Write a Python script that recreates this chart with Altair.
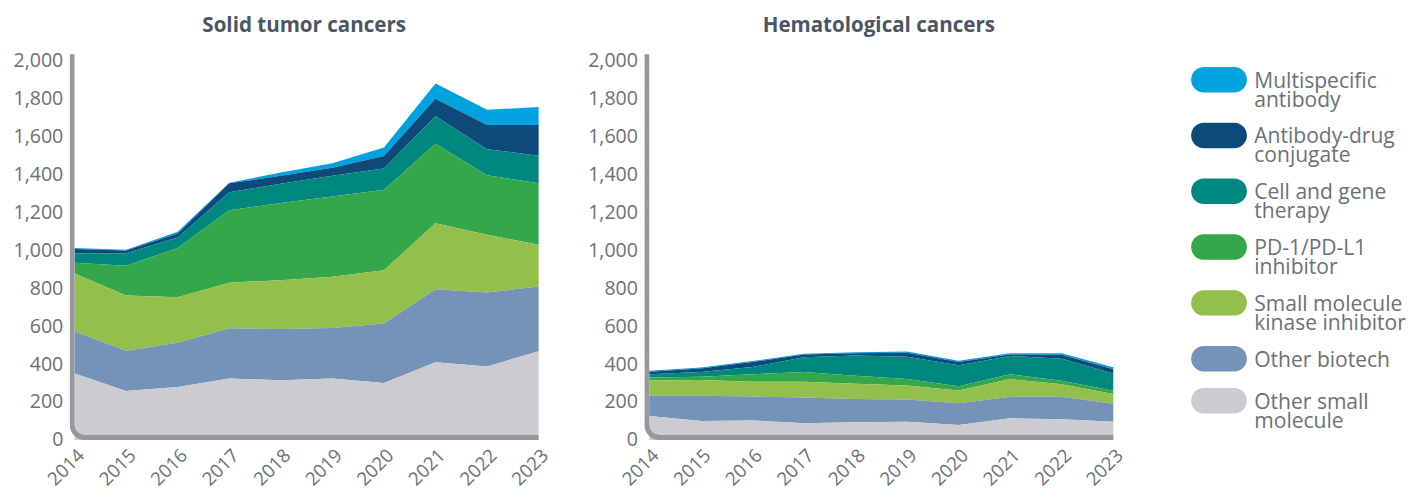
import altair as alt
import pandas as pd

years = list(range(2014, 2024))

categories = [
    "Multispecific antibody",
    "Antibody-drug conjugate",
    "Cell and gene therapy",
    "PD-1/PD-L1 inhibitor",
    "Small molecule kinase inhibitor",
    "Other biotech",
    "Other small molecule",
]
legend_labels = [
    "Multispecific\nantibody",
    "Antibody-drug\nconjugate",
    "Cell and gene\ntherapy",
    "PD-1/PD-L1\ninhibitor",
    "Small molecule\nkinase inhibitor",
    "Other biotech",
    "Other small\nmolecule",
]
colors = ["#00a3e0", "#0c4a7a", "#00877f", "#33a74a", "#93c04a", "#7593b8", "#cbcbd0"]

# Solid tumor cancers
solid_multispecific = [5, 4, 9, 3, 17, 24, 45, 81, 80, 95]
solid_adc = [23, 14, 21, 47, 42, 42, 66, 92, 128, 161]
solid_cell_gene = [50, 66, 55, 95, 102, 109, 112, 145, 137, 146]
solid_pd1 = [57, 157, 260, 382, 407, 424, 425, 420, 315, 324]
solid_kinase = [306, 291, 240, 241, 258, 270, 280, 348, 304, 221]
solid_other_biotech = [222, 213, 234, 265, 270, 267, 314, 385, 390, 341]
solid_other_small = [350, 258, 279, 324, 315, 324, 301, 410, 388, 468]

# Hematological cancers
heme_multispecific = [5, 5, 5, 4, 5, 7, 7, 7, 8, 11]
heme_adc = [13, 18, 26, 14, 12, 21, 17, 8, 21, 22]
heme_cell_gene = [17, 25, 38, 78, 107, 118, 111, 97, 116, 92]
heme_pd1 = [16, 18, 40, 52, 42, 34, 22, 25, 19, 17]
heme_kinase = [81, 83, 78, 83, 81, 73, 68, 93, 66, 51]
heme_other_biotech = [106, 133, 126, 136, 123, 118, 114, 114, 119, 95]
heme_other_small = [127, 100, 103, 88, 93, 96, 79, 114, 109, 96]

solid_series = [solid_multispecific, solid_adc, solid_cell_gene, solid_pd1,
                solid_kinase, solid_other_biotech, solid_other_small]
heme_series = [heme_multispecific, heme_adc, heme_cell_gene, heme_pd1,
               heme_kinase, heme_other_biotech, heme_other_small]

y_ticks = list(range(0, 2001, 200))

FONT = "Open Sans"
LABEL_COLOR = "#6d7079"
TITLE_COLOR = "#4b5563"
FRAME_COLOR = "#96989e"

W = 479
H = 394
Y_MAX = 2035
LINE_W = 5
TITLE_OFFSET = 15
px_per_year = (W - LINE_W) / (years[-1] - years[0])
x_min = years[0] - LINE_W / px_per_year
px_per_unit = H / Y_MAX

x_scale = alt.Scale(domain=[x_min, years[-1]], nice=False, zero=False)
y_scale = alt.Scale(domain=[0, Y_MAX], nice=False)
x_axis = alt.Axis(values=years, format="d", labelAngle=-45, labelFontSize=19,
                  labelFont=FONT, labelColor=LABEL_COLOR, labelPadding=6,
                  labelOverlap=False, domain=False, ticks=False, grid=False,
                  title=None)
y_axis = alt.Axis(values=y_ticks, format=",d", labelFontSize=20, labelFont=FONT,
                  labelColor=LABEL_COLOR, labelPadding=7, labelOverlap=False,
                  domain=False, ticks=False, grid=False, title=None)


def make_df(series):
    rows = []
    n = len(categories)
    for i, (cat, vals) in enumerate(zip(categories, series)):
        for yr, v in zip(years, vals):
            rows.append({"year": yr, "category": cat, "value": v, "order": n - 1 - i})
    return pd.DataFrame(rows)


def panel(series, title):
    df = make_df(series)
    area = alt.Chart(df).mark_area(interpolate="linear").encode(
        x=alt.X("year:Q", scale=x_scale, axis=x_axis),
        y=alt.Y("value:Q", stack="zero", scale=y_scale, axis=y_axis),
        color=alt.Color("category:N", scale=alt.Scale(domain=categories, range=colors),
                        legend=None),
        order=alt.Order("order:Q", sort="ascending"),
    )
    frame_df = pd.DataFrame({
        "fx": [x_min + (LINE_W / 2) / px_per_year],
        "fx2": [years[-1] + 5],
        "fy": [(LINE_W / 2) / px_per_unit],
        "fy2": [Y_MAX * 2],
    })
    frame = alt.Chart(frame_df).mark_rect(
        clip=True, fill="white", fillOpacity=0, stroke=FRAME_COLOR,
        strokeWidth=LINE_W, cornerRadius=13,
    ).encode(
        x=alt.X("fx:Q", scale=x_scale, axis=x_axis),
        x2="fx2:Q",
        y=alt.Y("fy:Q", scale=y_scale, axis=y_axis),
        y2="fy2:Q",
    )
    return alt.layer(area, frame).properties(
        width=W, height=H,
        title=alt.TitleParams(title, fontSize=21, fontWeight="bold", font=FONT,
                              color=TITLE_COLOR, anchor="middle", offset=TITLE_OFFSET),
    )


# legend rows: slot position derived from number of text lines of the previous entry
slots = []
pos = 26
for lab in legend_labels:
    slots.append(pos)
    nlines = lab.count("\n") + 1
    pos += 29 + 14 * nlines
legend_df = pd.DataFrame({"category": categories, "label": legend_labels, "slot": slots})

pill = ("M -0.544 -0.456 L 0.544 -0.456 A 0.456 0.456 0 0 1 0.544 0.456 "
        "L -0.544 0.456 A 0.456 0.456 0 0 1 -0.544 -0.456 Z")
ly = alt.Y("slot:Q", scale=alt.Scale(domain=[0, H], reverse=True, nice=False, zero=False),
           axis=None)
leg_sym = alt.Chart(legend_df).mark_point(
    shape=pill, size=57 * 57, filled=True, opacity=1, strokeWidth=0
).encode(
    x=alt.value(58),
    y=ly,
    color=alt.Color("category:N", scale=alt.Scale(domain=categories, range=colors),
                    legend=None),
)
leg_txt = alt.Chart(legend_df).mark_text(
    align="left", baseline="alphabetic", dy=8, lineBreak="\n", lineHeight=19.5,
    fontSize=21.5, font=FONT, color=LABEL_COLOR,
).encode(x=alt.value(94), y=ly, text="label:N")
legend = alt.layer(leg_sym, leg_txt).properties(
    width=236, height=H,
    title=alt.TitleParams(" ", fontSize=21, fontWeight="bold", font=FONT,
                          offset=TITLE_OFFSET),
)

chart = alt.hconcat(
    panel(solid_series, "Solid tumor cancers"),
    panel(heme_series, "Hematological cancers"),
    legend,
    spacing=36,
).properties(
    padding={"left": 5, "top": 2, "right": 0, "bottom": 0},
    background="white",
).configure_view(stroke=None)

chart.save("out.html", embed_options={"renderer": "svg", "actions": False})
